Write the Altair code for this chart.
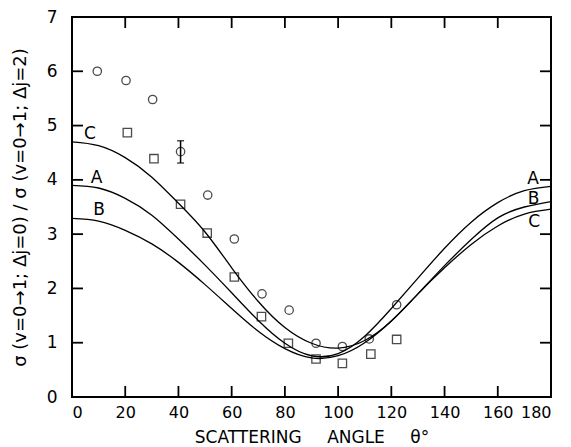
import altair as alt
import pandas as pd

# ---- data ----
curve_angles = [0, 10, 20, 30, 40, 50, 60, 70, 80, 90, 100, 110, 120, 130, 140, 150, 160, 170, 180]
curve_A = [3.90, 3.85, 3.66, 3.35, 2.91, 2.43, 1.92, 1.41, 0.99, 0.76, 0.80, 1.12, 1.63, 2.19, 2.74, 3.22, 3.58, 3.80, 3.88]
curve_B = [3.29, 3.24, 3.07, 2.82, 2.48, 2.07, 1.63, 1.21, 0.89, 0.72, 0.76, 1.00, 1.40, 1.90, 2.42, 2.90, 3.30, 3.50, 3.60]
curve_C = [4.70, 4.63, 4.41, 4.05, 3.57, 3.04, 2.38, 1.76, 1.28, 0.99, 0.90, 1.04, 1.40, 1.90, 2.38, 2.81, 3.15, 3.37, 3.46]

circle_angles = [9.5, 20.3, 30.3, 40.8, 51.0, 61.0, 71.4, 81.6, 91.7, 101.6, 111.7, 122.0]
circle_values = [6.00, 5.83, 5.48, 4.52, 3.72, 2.91, 1.90, 1.60, 0.99, 0.93, 1.07, 1.70]

square_angles = [20.8, 30.8, 40.8, 50.8, 61.0, 71.2, 81.3, 91.7, 101.6, 112.3, 122.0]
square_values = [4.87, 4.39, 3.55, 3.02, 2.21, 1.48, 0.99, 0.70, 0.62, 0.79, 1.06]

errbar_angle = [40.8]
errbar_low = [4.31]
errbar_high = [4.72]

label_text = ["C", "A", "B", "A", "B", "C"]
label_angle = [6.7, 9.2, 10.2, 173.3, 173.5, 173.7]
label_value = [4.84, 4.03, 3.44, 4.02, 3.65, 3.23]

x_ticks = [0, 20, 40, 60, 80, 100, 120, 140, 160, 180]
y_ticks = [0, 1, 2, 3, 4, 5, 6, 7]

FONT = "DejaVu Sans"
W, H = 479, 380
X_MIN, X_MAX, Y_MIN, Y_MAX = 0, 180, 0, 7
TICK_PX = 11
tick_dy = TICK_PX * (Y_MAX - Y_MIN) / H      # tick length in y-units
tick_dx = TICK_PX * (X_MAX - X_MIN) / W      # tick length in x-units

curves = pd.DataFrame({
    "angle": curve_angles * 3,
    "value": curve_A + curve_B + curve_C,
    "curve": ["A"] * len(curve_angles) + ["B"] * len(curve_angles) + ["C"] * len(curve_angles),
})
circles = pd.DataFrame({"angle": circle_angles, "value": circle_values})
squares = pd.DataFrame({"angle": square_angles, "value": square_values})
err = pd.DataFrame({"angle": errbar_angle, "lo": errbar_low, "hi": errbar_high})
labels = pd.DataFrame({"t": label_text, "angle": label_angle, "value": label_value})

inner_x = x_ticks[1:-1]
inner_y = y_ticks[1:-1]
# inward frame ticks: vertical ones along bottom & top, horizontal ones along left & right
vt = pd.DataFrame({
    "tx": inner_x * 2,
    "ty1": [Y_MIN] * len(inner_x) + [Y_MAX] * len(inner_x),
    "ty2": [Y_MIN + tick_dy] * len(inner_x) + [Y_MAX - tick_dy] * len(inner_x),
})
ht = pd.DataFrame({
    "hy": inner_y * 2,
    "hx1": [X_MIN] * len(inner_y) + [X_MAX] * len(inner_y),
    "hx2": [X_MIN + tick_dx] * len(inner_y) + [X_MAX - tick_dx] * len(inner_y),
})

xscale = alt.Scale(domain=[X_MIN, X_MAX], nice=False, zero=False)
yscale = alt.Scale(domain=[Y_MIN, Y_MAX], nice=False, zero=False)

x_bottom = alt.Axis(values=x_ticks, format="d", domain=False, grid=False, ticks=False, labelPadding=7,
                    labelFont=FONT, labelFontSize=16, labelColor="black",
                    title="SCATTERING\u2003\u2002ANGLE\u2003\u2002\u03b8\u00b0", titleFont=FONT, titleFontSize=17,
                    titleFontWeight="normal", titleColor="black", titlePadding=9)
y_left = alt.Axis(values=y_ticks, format="d", domain=False, grid=False, ticks=False, labelPadding=15,
                  labelFont=FONT, labelFontSize=17, labelColor="black",
                  title="\u03c3 (v=0\u21921; \u0394j=0) / \u03c3 (v=0\u21921; \u0394j=2)",
                  titleFont=FONT, titleFontSize=18, titleFontWeight="normal", titleColor="black",
                  titlePadding=17)

X = lambda f: alt.X(f, type="quantitative", scale=xscale)
Y = lambda f: alt.Y(f, type="quantitative", scale=yscale)

lines = alt.Chart(curves).mark_line(color="black", strokeWidth=1.3, interpolate="natural").encode(
    x=alt.X("angle:Q", scale=xscale, axis=x_bottom),
    y=alt.Y("value:Q", scale=yscale, axis=y_left),
    detail="curve:N",
)

t_vert = alt.Chart(vt).mark_rule(color="black", strokeWidth=1.8).encode(x=X("tx"), y=Y("ty1"), y2="ty2:Q")
t_horz = alt.Chart(ht).mark_rule(color="black", strokeWidth=1.8).encode(y=Y("hy"), x=X("hx1"), x2="hx2:Q")

pts_c = alt.Chart(circles).mark_point(shape="circle", filled=False, color="black", size=70, strokeWidth=1.3).encode(
    x=X("angle"), y=Y("value"))
pts_s = alt.Chart(squares).mark_point(shape="square", filled=False, color="black", size=70, strokeWidth=1.3).encode(
    x=X("angle"), y=Y("value"))

eb = alt.Chart(err).mark_rule(color="black", strokeWidth=1.5).encode(x=X("angle"), y=Y("lo"), y2="hi:Q")
cap_lo = alt.Chart(err).mark_tick(color="black", orient="horizontal", size=7, thickness=1.5).encode(
    x=X("angle"), y=Y("lo"))
cap_hi = alt.Chart(err).mark_tick(color="black", orient="horizontal", size=7, thickness=1.5).encode(
    x=X("angle"), y=Y("hi"))

txt = alt.Chart(labels).mark_text(font=FONT, fontSize=17, color="black").encode(
    x=X("angle"), y=Y("value"), text="t:N")

chart = alt.layer(lines, t_vert, t_horz, pts_c, pts_s, eb, cap_lo, cap_hi, txt).properties(
    width=W, height=H,
    autosize=alt.AutoSizeParams(type="none"),
    padding={"left": 72, "top": 17, "right": 20, "bottom": 50},
    background="white",
).configure_view(stroke="black", strokeWidth=2)

chart.save("out.html", embed_options={"renderer": "svg", "actions": False})
